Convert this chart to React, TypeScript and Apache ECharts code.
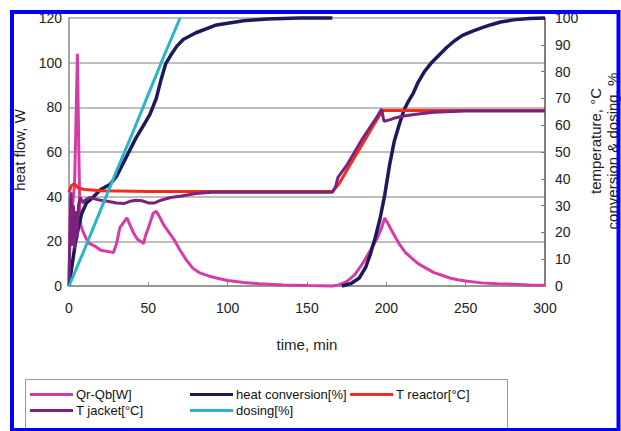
import React, { useEffect, useRef } from "react";
import * as echarts from "echarts";

// time [min], value
const qrQb: [number, number][] = [
  [0, 0], [0.8, 40], [1.5, 28], [2.5, 38], [3.5, 45], [4.3, 70], [5.3, 104], [6.2, 60], [6.8, 35], [7.5, 27],
  [9, 24], [11, 21], [13, 19], [16, 18], [20, 16], [24, 15.5], [28, 15], [30, 19], [32, 26], [35, 29],
  [36.5, 30.5], [38, 28], [40.5, 24], [43, 21], [47, 19], [48, 22], [50, 26], [53, 32.5], [55, 33.5], [57, 31],
  [60, 27], [62, 25], [66, 21], [70, 16], [74, 11.6], [78, 8], [82, 6], [88, 4.5], [93, 3.6], [100, 2.5],
  [110, 1.6], [120, 1], [135, 0.5], [150, 0.2], [166, 0], [170, 0.5], [175, 2], [180, 5], [185, 10], [190, 16],
  [194, 21], [197, 26], [199, 30.5], [201, 28], [204, 24], [208, 19], [212, 15], [216, 12.5], [220, 10], [225, 8],
  [230, 6], [235, 4.8], [240, 3.6], [245, 2.8], [250, 2.2], [260, 1.4], [270, 1], [280, 0.8], [290, 0.5], [300, 0.3],
];

const heatConversion: [number, number | string][] = [
  [0, 0], [2, 8], [4, 16], [6, 22], [8, 27], [11, 31], [15, 33], [20, 36], [26, 38], [30, 41],
  [36, 48], [42, 55], [48, 61], [51, 64], [55, 70], [58, 77], [61, 83], [64, 86], [68, 89.5], [72, 92],
  [80, 94.5], [93, 97.4], [110, 99], [125, 99.6], [145, 100], [166, 100], [169, "-"],
  [172, 0], [178, 1], [183, 3], [187, 7], [190, 12], [193, 18], [196, 25], [199, 34], [202, 45], [205, 54],
  [208, 60], [211, 65.5], [214, 69], [217, 72], [220, 76], [224, 80], [228, 83], [233, 86], [238, 89], [243, 91.5],
  [248, 93.5], [254, 95], [260, 96.3], [266, 97.5], [272, 98.5], [280, 99.3], [290, 99.8], [300, 100],
];

const tReactor: [number, number][] = [
  [0, 35], [1.5, 37.5], [3, 38], [4.5, 37.5], [6, 36.5], [10, 36], [20, 35.5], [50, 35.3], [166, 35.3],
  [170, 38], [175, 43], [180, 48], [185, 53], [190, 58], [195, 63], [198, 65.5], [210, 65.5], [300, 65.5],
];

const tJacket: [number, number][] = [
  [0, 2], [0.7, 20], [1.3, 35], [2, 15], [2.8, 30], [3.5, 14], [4.3, 28], [5, 18], [6, 30], [7, 33],
  [9, 31], [10, 32], [13, 33], [16, 32.5], [20, 32], [25, 31.5], [30, 31], [35, 30.8], [38, 31.5], [42, 32],
  [46, 31.8], [50, 31], [54, 31], [58, 32], [64, 33], [70, 33.5], [80, 34.5], [90, 35], [100, 35], [166, 35],
  [168, 37], [169.5, 40.5], [175, 45], [180, 50], [185, 55], [190, 59.5], [194, 63], [197, 66], [198.5, 61.5], [202, 62],
  [206, 62.8], [212, 63.5], [220, 64.2], [230, 64.8], [250, 65.3], [300, 65.3],
];

const dosing: [number, number][] = [
  [0, 0], [10, 14], [20, 28.5], [30, 43], [40, 57], [50, 71.5], [60, 86], [70, 100],
];

const seriesNames = ["Qr-Qb[W]", "heat conversion[%]", "T reactor[°C]", "T jacket[°C]", "dosing[%]"];
const seriesColors = ["#d63ca8", "#1b1a5c", "#f52a1e", "#7b237c", "#29b5c9"];

const FONT = "'Liberation Sans', Arial, sans-serif";

export default function App() {
  const ref = useRef<HTMLDivElement>(null);
  useEffect(() => {
    if (!ref.current) return;
    const chart = echarts.init(ref.current, null, { renderer: "svg" });
    const datasets = [qrQb, heatConversion, tReactor, tJacket, dosing];
    const legendPos = [
      [30, 388], [190, 388], [350, 388], [30, 404], [190, 404],
    ];
    chart.setOption({
      animation: false,
      backgroundColor: "#ffffff",
      textStyle: { fontFamily: FONT },
      grid: { left: 69, top: 18, right: 76, bottom: 145, containLabel: false, outerBoundsMode: "none" },
      xAxis: {
        type: "value", min: 0, max: 300, interval: 50,
        axisLine: { lineStyle: { color: "#8a8a8a", width: 1.5 } },
        axisTick: { inside: true, length: 4, lineStyle: { color: "#8a8a8a" } },
        axisLabel: { fontSize: 14, color: "#222", margin: 15, fontFamily: FONT },
        splitLine: { show: false },
      },
      yAxis: [
        {
          type: "value", min: 0, max: 120, interval: 20, position: "left",
          axisLine: { show: true, lineStyle: { color: "#8a8a8a", width: 1.5 } },
          axisTick: { show: false },
          axisLabel: { fontSize: 14, color: "#222", margin: 7, fontFamily: FONT },
          splitLine: { show: true, lineStyle: { color: "#a8a8a8", width: 1.5 } },
        },
        {
          type: "value", min: 0, max: 100, interval: 10, position: "right",
          axisLine: { show: true, lineStyle: { color: "#555", width: 1.5 } },
          axisTick: { show: true, inside: true, length: 4, lineStyle: { color: "#777" } },
          axisLabel: { fontSize: 14, color: "#222", margin: 10, fontFamily: FONT },
          splitLine: { show: false },
        },
      ],
      legend: seriesNames.map((n, i) => ({
        data: [n],
        left: legendPos[i][0],
        top: legendPos[i][1],
        icon: "rect",
        itemWidth: 43,
        itemHeight: 3,
        itemGap: 0,
        padding: 0,
        selectedMode: false,
        textStyle: { fontSize: 13, color: "#111", fontFamily: FONT, padding: [0, 0, 0, -2] },
      })),
      series: datasets.map((d, i) => ({
        name: seriesNames[i],
        type: "line",
        yAxisIndex: i === 0 ? 0 : 1,
        data: d,
        showSymbol: false,
        symbol: "none",
        clip: false,
        connectNulls: false,
        color: seriesColors[i],
        lineStyle: { color: seriesColors[i], width: i === 1 ? 3.5 : 3 },
        z: 2 + i,
      })),
      graphic: [
        {
          type: "rect", z: 50,
          shape: { x: 25.5, y: 379.5, width: 482, height: 70 },
          style: { fill: "none", stroke: "#999", lineWidth: 1 },
        },
        {
          type: "text", z: 60, x: 19, y: 150, rotation: Math.PI / 2,
          style: { text: "heat flow, W", fontSize: 15, fill: "#222", align: "center", verticalAlign: "middle", fontFamily: FONT },
        },
        {
          type: "text", z: 60, x: 595, y: 141, rotation: Math.PI / 2,
          style: { text: "temperature, °C", fontSize: 15, fill: "#222", align: "center", verticalAlign: "middle", fontFamily: FONT },
        },
        {
          type: "text", z: 60, x: 612, y: 151, rotation: Math.PI / 2,
          style: { text: "conversion & dosing, %", fontSize: 15, fill: "#222", align: "center", verticalAlign: "middle", fontFamily: FONT },
        },
        {
          type: "text", z: 60, x: 307, y: 344,
          style: { text: "time, min", fontSize: 15, fill: "#222", align: "center", verticalAlign: "middle", fontFamily: FONT },
        },
        {
          type: "rect", z: 100,
          shape: { x: 12, y: 12, width: 606.5, height: 418 },
          style: { fill: "none", stroke: "#0000ff", lineWidth: 4 },
        },
      ],
    });
    return () => chart.dispose();
  }, []);
  return (
    <div
      ref={ref}
      style={{ position: "fixed", left: 0, top: 0, width: 621, height: 431, background: "#fff" }}
    />
  );
}
